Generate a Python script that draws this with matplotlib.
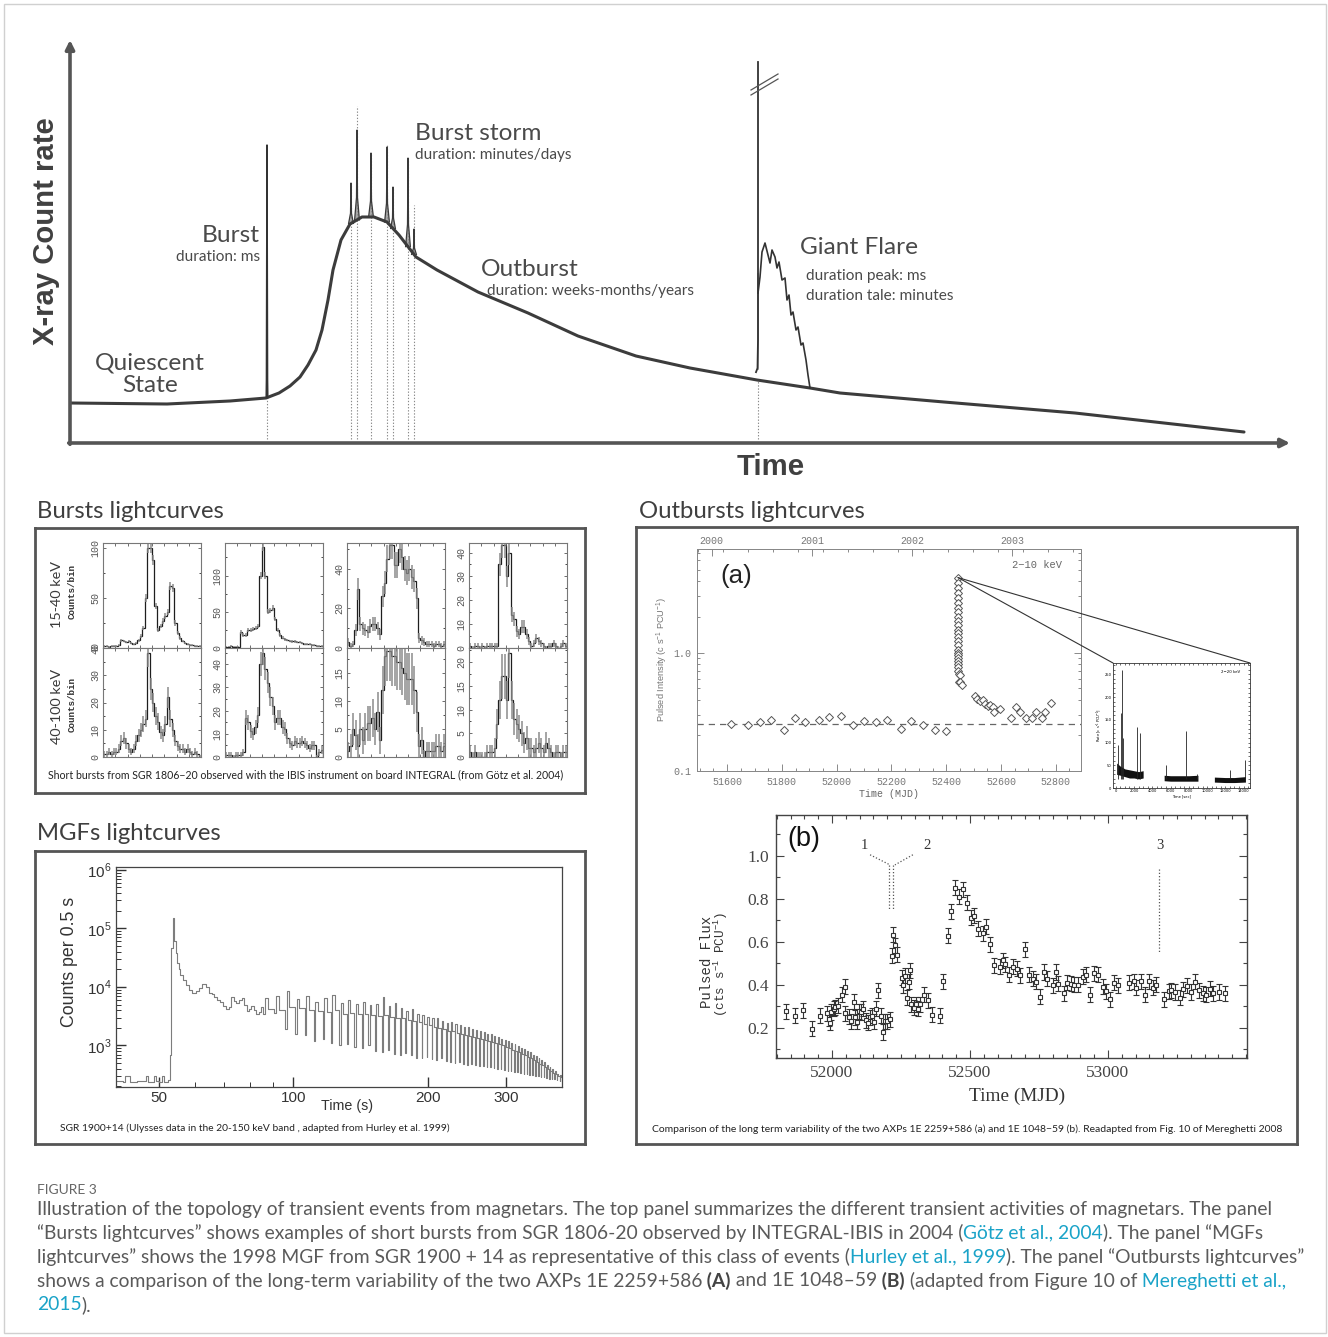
import numpy as np
import matplotlib
matplotlib.use('Agg')
import matplotlib.pyplot as plt
from matplotlib.patches import Rectangle, ConnectionPatch
from matplotlib.ticker import MultipleLocator, NullFormatter, LogLocator

W, H = 1328, 1337
GILL = 'Lato'
HELV = 'Liberation Sans'
SERIF = 'Liberation Serif'
MONO = 'Liberation Mono'
TXT = '#4a4a4a'
AXC = '#555555'
plt.rcParams['mathtext.fontset'] = 'custom'
plt.rcParams['mathtext.rm'] = 'Liberation Sans'

# ---------------- data ----------------
# schematic light curve (arbitrary time / count-rate units)
sk_t = [0, 97, 160, 196, 209, 220, 230, 238, 246, 252, 258, 263, 271, 280, 292, 304, 317,
        329, 346, 367, 408, 458, 508, 566, 620, 687, 740, 770, 874, 1005, 1174]
sk_r = [40, 39, 42, 45, 50, 57, 66, 78, 93, 113, 143, 173, 203, 219, 226, 226, 221,
        208, 186, 173, 151, 130, 107, 87, 75, 63, 55, 50, 41, 30, 11]
burst_t, burst_top = 197, 298
storm_t = [281, 287, 301, 317, 323, 338, 344]
storm_top = [260, 313, 290, 296, 256, 285, 214]
storm_guide = [260, 337, 290, 298, 256, 285, 238]
gf_t, gf_top = 688, 381
gf_tail_t = [688, 690, 692, 695, 698, 700, 702, 705, 707, 709, 712, 715, 717, 719, 721,
             723, 726, 728, 731, 733, 736, 738, 740]
gf_tail_r = [150, 166, 191, 200, 188, 180, 193, 186, 175, 181, 163, 165, 143, 148, 128,
             131, 113, 116, 98, 100, 83, 68, 55]

# INTEGRAL/IBIS short bursts, counts per bin
soft_1 = [2, 2, 1, 2, 2, 2, 3, 8, 7, 6, 7, 5, 4, 5, 8, 12, 20, 50, 100, 100,
          88, 42, 18, 22, 27, 32, 36, 62, 60, 25, 15, 10, 7, 5, 4, 3, 3, 2, 2, 2]
soft_2 = [2, 2, 3, 2, 2, 2, 22, 18, 18, 25, 25, 26, 28, 30, 100, 140, 100, 50, 52, 55,
          40, 25, 18, 14, 12, 11, 10, 9, 9, 8, 8, 7, 6, 6, 5, 4, 4, 3, 3, 3]
soft_3 = [3, 1, 2, 9, 30, 12, 10, 9, 8, 11, 12, 12, 10, 7, 26, 33, 45, 52, 52, 42,
          42, 50, 46, 40, 38, 40, 36, 34, 25, 5, 4, 3, 2, 2, 2, 1, 2, 2, 1, 2]
soft_4 = [1, 0, 1, 1, 0, 1, 0, 1, 1, 1, 1, 1, 35, 43, 43, 30, 40, 14, 12, 7,
          6, 9, 9, 6, 3, 1, 2, 4, 3, 2, 1, 0, 1, 1, 2, 1, 0, 1, 2, 1]
hard_1 = [1, 1, 2, 1, 2, 2, 3, 6, 7, 5, 3, 2, 3, 6, 8, 10, 12, 14, 38, 25,
          20, 15, 13, 9, 8, 12, 22, 14, 10, 6, 4, 3, 3, 2, 3, 2, 1, 2, 1, 0]
hard_2 = [1, 1, 1, 0, 1, 1, 1, 2, 17, 15, 11, 10, 13, 18, 40, 45, 38, 32, 26, 22,
          15, 17, 17, 13, 12, 8, 6, 5, 7, 6, 6, 7, 6, 5, 4, 5, 5, 0, 2, 3]
hard_3 = [1, 2, 5, 4, 2, 5, 3, 5, 6, 6, 7, 5, 8, 3, 12, 18, 19, 19, 18, 18,
          17, 17, 16, 15, 14, 14, 14, 12, 8, 2, 3, 0, 1, 1, 1, 1, 2, 2, 1, 2]
hard_4 = [1, 0, 1, 0, 0, 0, 0, 1, 1, 1, 2, 7, 12, 17, 17, 12, 22, 12, 8, 7,
          6, 5, 3, 4, 2, 2, 1, 2, 3, 2, 1, 3, 2, 1, 0, 1, 1, 0, 1, 1]
soft_ylim = [105, 145, 53, 44]
hard_ylim = [40, 47, 19.5, 23]
soft_ticks = [[0, 50, 100], [0, 50, 100], [0, 20, 40], [0, 10, 20, 30, 40]]
hard_ticks = [[0, 10, 20, 30, 40], [0, 10, 20, 30, 40], [0, 5, 10, 15], [0, 5, 10, 15, 20]]

# SGR 1900+14 giant flare (Ulysses), counts per 0.5 s
mgf_t0 = [40, 41.5, 42, 43, 43.5, 44.5, 46, 46.6, 47.2, 48, 48.6, 49.2, 50, 50.6, 51.2,
          52.2, 52.8, 53.2, 53.6, 54.0, 54.4, 54.8, 55.3, 55.8, 56.5, 57.3, 58.2, 59.2,
          60.5, 61.5, 62.5, 63.5, 64.5, 65.5, 66.5, 67.5, 68.5, 69.5, 70.5, 71.5, 72.5,
          73.5, 74.5, 75.5, 76.5, 77.5, 78.5, 79.5, 80.5, 81.5, 82.5, 83.5, 84.5]
mgf_c0 = [250, 240, 300, 240, 235, 250, 245, 300, 240, 240, 300, 245, 240, 300, 240,
          260, 700, 4.6e4, 1.5e5, 6.0e4, 3.8e4, 2.6e4, 2.0e4, 1.6e4, 1.3e4, 1.1e4, 9.0e3,
          8.0e3, 8.6e3, 9.5e3, 1.13e4, 1.0e4, 8.0e3, 7.6e3, 6.8e3, 6.0e3, 5.6e3, 4.8e3,
          4.2e3, 4.6e3, 6.7e3, 5.8e3, 5.4e3, 6.0e3, 6.5e3, 5.0e3, 3.9e3, 4.2e3, 4.8e3,
          4.0e3, 3.45e3, 3.8e3, 4.5e3]
pulse_t = [85.4, 90.6, 95.7, 100.9, 106.0, 111.2, 116.4, 121.5, 126.7, 131.8, 137.0,
           142.2, 147.3, 152.5, 157.6, 162.8, 168.0, 173.1, 178.3, 183.4, 188.6, 193.8,
           198.9, 204.1, 209.2, 214.4, 219.6, 224.7, 229.9, 235.0, 240.2, 245.4, 250.5,
           255.7, 260.8, 266.0, 271.2, 276.3, 281.5, 286.6, 291.8, 297.0, 302.1, 307.3,
           312.4, 317.6, 322.8, 327.9, 333.1, 338.2, 343.4, 348.6, 353.7, 358.9, 364.0,
           369.2, 374.4, 379.5, 384.7, 389.8, 395.0]
pulse_hi = [6500, 7000, 8400, 6200, 7000, 5600, 6400, 7400, 5400, 6000, 5200, 5600, 4900,
            5100, 6600, 4700, 5300, 4300, 3900, 4200, 3500, 3300, 3100, 2900, 3000, 2600,
            2450, 2500, 2300, 2200, 2100, 2050, 1900, 1850, 1750, 1700, 1600, 1550, 1450,
            1400, 1300, 1250, 1200, 1100, 1050, 980, 920, 880, 800, 760, 700, 660, 600,
            560, 520, 470, 430, 390, 360, 330, 310]
pulse_mid = [4200, 4000, 4600, 4300, 4000, 3900, 3700, 4100, 3500, 3600, 3400, 3500, 3300,
             3200, 3300, 3100, 3000, 2900, 2700, 2650, 2500, 2350, 2200, 2050, 1950, 1900,
             1800, 1750, 1650, 1600, 1500, 1450, 1400, 1350, 1300, 1250, 1200, 1150, 1100,
             1050, 1000, 950, 900, 850, 800, 760, 720, 680, 640, 600, 560, 530, 490, 460,
             430, 400, 370, 340, 320, 300, 285]
pulse_lo = [3500, 3600, 1900, 1600, 1500, 1200, 1300, 1100, 1000, 1050, 950, 900, 1000,
            800, 760, 820, 720, 700, 740, 680, 620, 600, 640, 580, 560, 600, 540, 520, 500,
            520, 480, 470, 490, 460, 450, 440, 430, 420, 410, 400, 395, 380, 370, 365, 350,
            345, 340, 330, 325, 315, 310, 300, 295, 290, 285, 280, 270, 265, 262, 258, 250]

# 1E 2259+586 pulsed intensity (RXTE, 2-10 keV)
a_quiescent = 0.25
a_mjd_q = [51615, 51677, 51720, 51762, 51807, 51846, 51886, 51934, 51973, 52016,
           52061, 52101, 52143, 52184, 52234, 52273, 52315, 52359, 52398]
a_val_q = [0.249, 0.244, 0.257, 0.270, 0.221, 0.278, 0.260, 0.270, 0.287, 0.292,
           0.244, 0.264, 0.257, 0.270, 0.228, 0.264, 0.244, 0.221, 0.218]
a_onset = 52443
a_val_o = [4.3, 3.9, 3.5, 3.2, 2.9, 2.6, 2.4, 2.2, 2.0, 1.85, 1.7, 1.55, 1.45, 1.35,
           1.25, 1.15, 1.05, 1.0, 0.95, 0.9, 0.85, 0.8, 0.75, 0.7]
a_mjd_d = [52446, 52450, 52447, 52452, 52458, 52504, 52514, 52523, 52534, 52542, 52551,
           52560, 52570, 52575, 52596, 52638, 52655, 52671, 52690, 52713, 52729, 52749,
           52762, 52781]
a_val_d = [0.66, 0.65, 0.57, 0.56, 0.53, 0.432, 0.405, 0.387, 0.40, 0.367, 0.355, 0.36,
           0.344, 0.312, 0.333, 0.283, 0.344, 0.316, 0.28, 0.283, 0.312, 0.278, 0.312, 0.375]
year_mjd = [51544, 51910, 52275, 52640]
year_lbl = ['2000', '2001', '2002', '2003']

# zoom on the outburst onset (count rate vs seconds)
seg_t = [[100, 500, 1000, 1500, 2000, 2500, 3000],
         [5300, 6000, 7000, 8000, 9000],
         [10800, 12000, 13000, 14200]]
seg_lo = [[30, 28, 25, 22, 22, 20, 22], [16, 15, 15, 15, 15], [13, 12, 12, 13]]
seg_hi = [[55, 48, 42, 40, 38, 36, 38], [28, 27, 27, 27, 28], [24, 23, 23, 25]]
spike_t = [300, 550, 650, 800, 2350, 2650, 5500, 7700, 8900, 12500, 14100]
spike_h = [95, 165, 260, 110, 135, 120, 50, 125, 30, 40, 62]

# 1E 1048-59 pulsed flux
b_mjd = [51832, 51866, 51894, 51926, 51956, 51982, 51988, 51992, 51998, 52006, 52012,
         52022, 52036, 52046, 52048, 52062, 52070, 52078, 52084, 52090, 52098, 52106,
         52114, 52122, 52129, 52138, 52144, 52151, 52158, 52168, 52177, 52183, 52192,
         52201, 52210,
         52216, 52222, 52230, 52236, 52252, 52258, 52264, 52272, 52279, 52282, 52288,
         52296, 52304, 52312, 52318, 52333, 52348, 52363, 52391,
         52404, 52420, 52433, 52447, 52462, 52476, 52488, 52504, 52513, 52528, 52548,
         52559, 52572, 52588, 52608, 52620, 52627, 52643, 52656, 52669, 52681, 52699,
         52715, 52729, 52739, 52753, 52767, 52779, 52800, 52812, 52818, 52839, 52851,
         52867, 52878, 52890, 52909, 52921, 52935, 52950, 52965, 52981, 52992, 53007,
         53022, 53035,
         53076, 53094, 53103, 53119, 53133, 53149, 53163, 53175, 53203, 53220, 53227,
         53243, 53261, 53271, 53285, 53301, 53317, 53331, 53343, 53355, 53369, 53379,
         53403, 53423]
b_flux = [0.278, 0.256, 0.282, 0.197, 0.256, 0.267, 0.243, 0.224, 0.274, 0.289, 0.297,
          0.304, 0.355, 0.391, 0.267, 0.251, 0.231, 0.321, 0.250, 0.228, 0.277, 0.274,
          0.290, 0.236, 0.224, 0.250, 0.257, 0.228, 0.290, 0.375, 0.257, 0.181, 0.231,
          0.231, 0.240,
          0.535, 0.634, 0.585, 0.541, 0.433, 0.398, 0.442, 0.340, 0.414, 0.468, 0.309,
          0.293, 0.309, 0.290, 0.309, 0.355, 0.329, 0.262, 0.256,
          0.417, 0.628, 0.743, 0.851, 0.809, 0.845, 0.783, 0.712, 0.721, 0.662, 0.639,
          0.670, 0.588, 0.491, 0.484, 0.515, 0.495, 0.448, 0.484, 0.476, 0.445, 0.566,
          0.448, 0.429, 0.414, 0.344, 0.460, 0.429, 0.398, 0.460, 0.406, 0.360, 0.411,
          0.406, 0.401, 0.401, 0.437, 0.448, 0.355, 0.453, 0.448, 0.391, 0.371, 0.333,
          0.411, 0.398,
          0.411, 0.417, 0.386, 0.417, 0.355, 0.417, 0.386, 0.401, 0.333, 0.371, 0.375,
          0.367, 0.340, 0.380, 0.395, 0.367, 0.414, 0.375, 0.360, 0.355, 0.383, 0.360,
          0.367, 0.360]
b_err = 0.035
glitch_mjd = [52207, 52221]
event3_mjd = 53185

# ---------------- helpers ----------------
fig = plt.figure(figsize=(W / 100, H / 100), dpi=100)
fig.patch.set_facecolor('white')
R = fig.canvas.get_renderer()


def rect(x0, y0, x1, y1):
    return [x0 / W, 1 - y1 / H, (x1 - x0) / W, (y1 - y0) / H]


def px(x, y):
    return x / W, 1 - y / H


def fit(s, width, **kw):
    t = fig.text(0, 0, s, fontsize=10, **kw)
    w = t.get_window_extent(R).width
    t.remove()
    return 10.0 * width / w


def frame(x0, y0, x1, y1, lw=2.0):
    a = fig.add_axes(rect(x0, y0, x1, y1))
    a.set_xticks([]); a.set_yticks([])
    a.set_facecolor('none')
    for s in a.spines.values():
        s.set_color(AXC); s.set_linewidth(lw)
    return a


fig.add_artist(Rectangle((4 / W, 1 - 1333 / H), 1322 / W, 1329 / H,
                         transform=fig.transFigure, fill=False, ec='#d0d0d0', lw=1))

# ---------------- top schematic ----------------
ax = fig.add_axes(rect(70, 40, 1290, 443))
ax.set_xlim(0, 1220); ax.set_ylim(0, 403); ax.axis('off')
arr = dict(arrowstyle='-|>', color=AXC, lw=2.6, mutation_scale=13, shrinkA=0, shrinkB=0)
ax.annotate('', xy=(1220, 0), xytext=(-1.3, 0), arrowprops=arr, annotation_clip=False)
ax.annotate('', xy=(0, 403), xytext=(0, -1.3), arrowprops=arr, annotation_clip=False)

dots = dict(colors='#8a8a8a', linestyles=(0, (1.2, 1.6)), lw=0.8)
ax.vlines([burst_t, gf_t], 4, [np.interp(burst_t, sk_t, sk_r), np.interp(gf_t, sk_t, sk_r)], **dots)
ax.vlines(storm_t, 4, storm_guide, **dots)
ax.plot(sk_t, sk_r, color='#3c3c3c', lw=2.2, solid_capstyle='round')

b0 = np.interp(burst_t, sk_t, sk_r)
ax.fill([burst_t - 1.8, burst_t, burst_t + 1.8], [b0, b0 + 40, b0], color='#b0b0b0', lw=0)
ax.plot([burst_t - 0.6, burst_t, burst_t + 0.6], [b0, burst_top, b0], color='#333', lw=1.1)
for t, top in zip(storm_t, storm_top):
    base = np.interp(t, sk_t, sk_r)
    ax.fill([t - 2.4, t - 0.5, t, t + 0.5, t + 2.4],
            [base, base + 0.25 * (top - base), top, base + 0.25 * (top - base), base],
            color='#a8a8a8', lw=0)
    ax.plot([t - 2.4, t - 0.5, t, t + 0.5, t + 2.4],
            [base, base + 0.25 * (top - base), top, base + 0.25 * (top - base), base],
            color='#3a3a3a', lw=0.9)

g0 = np.interp(gf_t, sk_t, sk_r)
ax.plot([gf_t - 2, gf_t - 0.5, gf_t, gf_t], [g0 + 8, g0 + 12, g0 + 40, gf_top], color='#333', lw=1.3)
ax.fill_betweenx([g0 + 10, 170], gf_t - 0.8, gf_t + 1.2, color='#b0b0b0', lw=0)
ax.plot(gf_tail_t, gf_tail_r, color='#333', lw=1.2)
ax.plot([gf_t - 7, gf_t + 20], [348, 364], color='#555', lw=0.9)
ax.plot([gf_t - 7, gf_t + 20], [353, 369], color='#555', lw=0.9)

BIG = fit('Burst storm', 126, family=GILL)
SMALL = fit('duration: weeks-months/years', 208, family=GILL)
big = dict(family=GILL, fontsize=BIG, color=TXT, va='center')
small = dict(family=GILL, fontsize=SMALL, color=TXT, va='center')
fig.text(*px(260, 235), 'Burst', ha='right', **big)
fig.text(*px(260, 257), 'duration: ms', ha='right', **small)
fig.text(*px(150, 363), 'Quiescent', ha='center', **big)
fig.text(*px(150, 385), 'State', ha='center', **big)
fig.text(*px(415, 133), 'Burst storm', ha='left', **big)
fig.text(*px(415, 155), 'duration: minutes/days', ha='left', **small)
fig.text(*px(481, 270), 'Outburst', ha='left', **big)
fig.text(*px(487, 291), 'duration: weeks-months/years', ha='left', **small)
fig.text(*px(800, 248), 'Giant Flare', ha='left', **big)
fig.text(*px(806, 276), 'duration peak: ms', ha='left', **small)
fig.text(*px(806, 296), 'duration tale: minutes', ha='left', **small)

fig.text(*px(46, 231), 'X-ray Count rate', rotation=90, ha='center', va='center',
         family=HELV, weight='bold', color='#404040',
         fontsize=fit('X-ray Count rate', 227, family=HELV, weight='bold'))
fig.text(*px(771, 467), 'Time', ha='center', va='center', family=HELV, weight='bold',
         color='#404040', fontsize=fit('Time', 68, family=HELV, weight='bold'))

# ---------------- section titles and boxes ----------------
SEC = fit('Outbursts lightcurves', 226, family=GILL)
sec = dict(family=GILL, fontsize=SEC, color='#3f3f3f', va='center', ha='left')
fig.text(*px(37, 511), 'Bursts lightcurves', **sec)
fig.text(*px(37, 833), 'MGFs lightcurves', **sec)
fig.text(*px(639, 511), 'Outbursts lightcurves', **sec)
frame(35, 528, 585, 793)
frame(35, 851, 585, 1144)
frame(636, 527, 1297, 1144)

# ---------------- bursts panel ----------------
cols_x = [(103, 201), (225, 323), (347, 445), (469, 567)]
rows_y = [(543, 648), (648, 757)]
rows = [([soft_1, soft_2, soft_3, soft_4], soft_ylim, soft_ticks, [0.5, 0.5, 1.0, 0.8]),
        ([hard_1, hard_2, hard_3, hard_4], hard_ylim, hard_ticks, [0.8, 0.8, 1.2, 1.1])]
edges = np.arange(41)
centers = edges[:-1] + 0.5
for (y0, y1), (series, ylims, ticks, k) in zip(rows_y, rows):
    for (x0, x1), vals, ylim, tk, kk in zip(cols_x, series, ylims, ticks, k):
        a = fig.add_axes(rect(x0, y0, x1, y1))
        v = np.array(vals, float)
        a.errorbar(centers, v, yerr=kk * np.sqrt(v + 1), fmt='none', ecolor='#8c8c8c', elinewidth=1.1)
        a.stairs(v, edges, color='#1e1e1e', lw=0.9)
        a.set_xlim(0, 40); a.set_ylim(0, ylim)
        a.set_yticks(tk, [str(t) for t in tk], rotation=90, va='center',
                     family=MONO, fontsize=7.2, color='#333')
        a.xaxis.set_major_locator(MultipleLocator(5))
        a.yaxis.set_minor_locator(MultipleLocator(tk[1] / 2))
        a.tick_params(direction='in', top=True, right=True, labelbottom=False,
                      length=2.5, width=0.6, pad=2, colors='#555')
        a.tick_params(which='minor', direction='in', right=True, left=True, length=1.5, width=0.5)
        for s in a.spines.values():
            s.set_color('#777'); s.set_linewidth(0.8)

kev = fit('15-40 keV', 67, family=GILL)
cb = fit('Counts/bin', 56, family=MONO, weight='bold')
for yc, lab in [(594, '15-40 keV'), (706, '40-100 keV')]:
    fig.text(*px(57, yc), lab, rotation=90, ha='center', va='center', family=GILL,
             fontsize=kev, color='#3a3a3a')
    fig.text(*px(72.5, yc - 2), 'Counts/bin', rotation=90, ha='center', va='center',
             family=MONO, weight='bold', fontsize=cb, color='#333')

cap1 = 'Short bursts from SGR 1806\u221220 observed with the IBIS instrument on board INTEGRAL (from G\u00f6tz et al. 2004)'
fig.text(*px(48, 775), cap1, ha='left', va='center', family=GILL, color='#222',
         fontsize=fit(cap1, 514, family=GILL))

# ---------------- MGF panel ----------------
mgf_t = list(mgf_t0)
mgf_c = list(mgf_c0)
for t, lo, hi, mid in zip(pulse_t, pulse_lo, pulse_hi, pulse_mid):
    mgf_t += [t, t + 0.8, t + 2.2]
    mgf_c += [lo, hi, mid]
mgf_t.append(400); mgf_c.append(245)

am = fig.add_axes(rect(116, 867, 562, 1087))
am.set_xscale('log'); am.set_yscale('log')
am.plot(mgf_t, mgf_c, drawstyle='steps-post', color='#7d7d7d', lw=0.8)
am.set_xlim(40, 400); am.set_ylim(195, 1.12e6)
am.set_xticks([50, 100, 200, 300], ['50', '100', '200', '300'], family=HELV, fontsize=11)
am.set_xticks([60, 70, 80, 90], minor=True)
am.xaxis.set_minor_formatter(NullFormatter())
am.set_yticks([1e3, 1e4, 1e5, 1e6], [r'$10^3$', r'$10^4$', r'$10^5$', r'$10^6$'], fontsize=11)
am.yaxis.set_minor_locator(LogLocator(subs=np.arange(2, 10)))
am.yaxis.set_minor_formatter(NullFormatter())
am.tick_params(which='major', direction='in', length=7, width=1.0, colors='#333', pad=3)
am.tick_params(which='minor', direction='in', length=3.5, width=0.7, colors='#333')
for s in am.spines.values():
    s.set_color('#444'); s.set_linewidth(0.9)
fig.text(*px(69, 962), 'Counts per 0.5 s', rotation=90, ha='center', va='center', family=HELV,
         color='#333', fontsize=fit('Counts per 0.5 s', 130, family=HELV))
fig.text(*px(347, 1106), 'Time (s)', ha='center', va='center', family=HELV, color='#333',
         fontsize=fit('Time (s)', 52, family=HELV))
cap2 = 'SGR 1900+14 (Ulysses data in the 20-150 keV band , adapted from Hurley et al. 1999)'
fig.text(*px(60, 1128), cap2, ha='left', va='center', family=GILL, color='#222',
         fontsize=fit(cap2, 390, family=GILL))

# ---------------- outburst (a) ----------------
aa = fig.add_axes(rect(697, 549, 1081, 771))
aa.set_yscale('log')
aa.set_xlim(51490, 52892); aa.set_ylim(0.1, 7.5)
aa.axhline(a_quiescent, color='#666', lw=0.9, ls=(0, (5, 4)))
ek = dict(fmt='D', ms=3.6, mfc='white', mec='#555', ecolor='#555', elinewidth=0.7, mew=0.7)
aa.errorbar(a_mjd_q, a_val_q, xerr=7, yerr=0.07 * np.array(a_val_q), **ek)
aa.plot([a_onset] * len(a_val_o), a_val_o, color='#333', lw=0.8)
aa.errorbar([a_onset] * len(a_val_o), a_val_o, yerr=0.03 * np.array(a_val_o), **ek)
aa.errorbar(a_mjd_d, a_val_d, xerr=7, yerr=0.07 * np.array(a_val_d), **ek)
aa.set_xticks(np.arange(51600, 52801, 200), [str(v) for v in range(51600, 52801, 200)],
              family=MONO, fontsize=7.2, color='#666')
aa.xaxis.set_minor_locator(MultipleLocator(50))
aa.set_yticks([0.1, 1.0], ['0.1', '1.0'], family=MONO, fontsize=7.2, color='#666')
aa.yaxis.set_minor_formatter(NullFormatter())
aa.tick_params(which='both', direction='in', right=True, colors='#777', width=0.6)
aa.tick_params(which='major', length=5, pad=4)
aa.tick_params(which='minor', length=2.5)
top = aa.twiny()
top.set_xlim(aa.get_xlim())
top.set_xticks(year_mjd, year_lbl, family=MONO, fontsize=7.2, color='#666')
top.xaxis.set_minor_locator(MultipleLocator(91.3))
top.tick_params(which='both', direction='in', colors='#777', width=0.6, pad=2)
top.tick_params(which='major', length=5); top.tick_params(which='minor', length=2.5)
for a in (aa, top):
    for s in a.spines.values():
        s.set_color('#888'); s.set_linewidth(0.7)
aa.text(0.06, 0.88, '(a)', transform=aa.transAxes, ha='left', va='center', family=HELV,
        fontsize=fit('(a)', 32, family=HELV), color='#222')
aa.text(0.95, 0.93, '2\u221210 keV', transform=aa.transAxes, ha='right', va='center',
        family=MONO, fontsize=7.5, color='#666')
fig.text(*px(889, 794), 'Time (MJD)', ha='center', va='center', family=MONO, fontsize=7.2, color='#666')
ylab_a = r'Pulsed Intensity (c s$^{-1}$ PCU$^{-1}$)'
fig.text(*px(662, 660), ylab_a, rotation=90, ha='center', va='center', family=HELV,
         fontsize=fit(ylab_a, 125, family=HELV), color='#777')

ai = fig.add_axes(rect(1113, 663, 1250, 788))
for ts, lo, hi in zip(seg_t, seg_lo, seg_hi):
    ai.fill_between(ts, lo, hi, color='#111', lw=0)
ai.vlines(spike_t, 20, spike_h, color='#222', lw=0.6)
ai.set_xlim(-300, 14700); ai.set_ylim(0, 275)
ai.set_xticks(np.arange(0, 14001, 2000), [str(v) for v in range(0, 14001, 2000)], fontsize=2.6)
ai.set_yticks(np.arange(0, 251, 50), [str(v) for v in range(0, 251, 50)], fontsize=2.6)
ai.xaxis.set_minor_locator(MultipleLocator(500))
ai.yaxis.set_minor_locator(MultipleLocator(10))
ai.tick_params(which='both', direction='in', top=True, right=True, length=1.5, width=0.4, pad=1)
ai.set_xlabel('Time [sec]', fontsize=2.6, labelpad=0.5)
ai.set_ylabel(r'Rate [c s$^{-1}$ PCU$^{-1}$]', fontsize=2.6, labelpad=0.5)
ai.text(0.93, 0.92, '2\u221220 keV', transform=ai.transAxes, ha='right', fontsize=2.8)
for s in ai.spines.values():
    s.set_linewidth(0.6); s.set_color('#333')
for corner in [(0, 1), (1, 1)]:
    fig.add_artist(ConnectionPatch(xyA=(a_onset, a_val_o[0]), coordsA=aa.transData,
                                   xyB=corner, coordsB=ai.transAxes, color='#333', lw=0.8))

# ---------------- outburst (b) ----------------
ab = fig.add_axes(rect(776, 815, 1247, 1058))
ab.errorbar(b_mjd, b_flux, yerr=b_err, fmt='s', ms=3.2, mfc='white', mec='#333',
            ecolor='#333', elinewidth=0.8, capsize=2, capthick=0.8, mew=0.8)
ab.set_xlim(51797, 53504); ab.set_ylim(0.06, 1.19)
ab.set_xticks([52000, 52500, 53000], ['52000', '52500', '53000'], family=SERIF, fontsize=12.5)
ab.xaxis.set_minor_locator(MultipleLocator(50))
ab.set_yticks([0.2, 0.4, 0.6, 0.8, 1.0], ['0.2', '0.4', '0.6', '0.8', '1.0'], family=SERIF, fontsize=12.5)
ab.yaxis.set_minor_locator(MultipleLocator(0.1))
ab.tick_params(which='both', direction='in', top=True, right=True, colors='#444', width=0.8)
ab.tick_params(which='major', length=6, pad=5); ab.tick_params(which='minor', length=3)
for s in ab.spines.values():
    s.set_color('#444'); s.set_linewidth(1.0)
dk = dict(color='#555', lw=0.9, ls=(0, (1, 1.6)))
ab.plot([52138, 52210], [1.005, 0.958], **dk)
ab.plot([52293, 52228], [1.005, 0.958], **dk)
for m in glitch_mjd:
    ab.plot([m, m], [0.958, 0.749], **dk)
ab.plot([event3_mjd, event3_mjd], [0.94, 0.553], **dk)
for m, s in [(52116, '1'), (52344, '2'), (53188, '3')]:
    ab.text(m, 1.05, s, ha='center', va='center', family=SERIF, fontsize=10.5, color='#333')
ab.text(0.025, 0.9, '(b)', transform=ab.transAxes, ha='left', va='center', family=HELV,
        fontsize=fit('(b)', 33, family=HELV), color='#111')
fig.text(*px(1017, 1096), 'Time (MJD)', ha='center', va='center', family=SERIF, color='#333',
         fontsize=fit('Time (MJD)', 96, family=SERIF))
fig.text(*px(707, 962), 'Pulsed Flux', rotation=90, ha='center', va='center', family=MONO,
         color='#333', fontsize=fit('Pulsed Flux', 93, family=MONO))
fig.text(*px(721, 964), r'(cts s$^{-1}$ PCU$^{-1}$)', rotation=90, ha='center', va='center',
         family=MONO, color='#333', fontsize=fit(r'(cts s$^{-1}$ PCU$^{-1}$)', 105, family=MONO))
cap3 = ('Comparison of the long term variability of the two AXPs 1E 2259+586 (a) and '
        '1E 1048\u221259 (b). Readapted from Fig. 10 of Mereghetti 2008')
fig.text(*px(652, 1129), cap3, ha='left', va='center', family=GILL, color='#222',
         fontsize=fit(cap3, 629, family=GILL))

# ---------------- figure caption ----------------
CAP = 'Lato'
GREY = '#5a5a5a'
LINK = '#1aa3c8'
L1 = ('Illustration of the topology of transient events from magnetars. The top panel summarizes '
      'the different transient activities of magnetars. The panel')
CS = fit(L1, 1240, family=CAP)
fig.text(*px(37, 1190), 'FIGURE 3', ha='left', va='center', family=CAP, fontsize=CS * 0.72,
         color='#666')


def rich(x, y, parts):
    for s, color, weight in parts:
        t = fig.text(*px(x, y), s, ha='left', va='center', family=CAP, fontsize=CS,
                     color=color, weight=weight)
        x += t.get_window_extent(R).width


lines = [
    [(L1, GREY, 'normal')],
    [('\u201cBursts lightcurves\u201d shows examples of short bursts from SGR 1806-20 observed by '
      'INTEGRAL-IBIS in 2004 (', GREY, 'normal'), ('G\u00f6tz et al., 2004', LINK, 'normal'),
     ('). The panel \u201cMGFs', GREY, 'normal')],
    [('lightcurves\u201d shows the 1998 MGF from SGR 1900 + 14 as representative of this class of '
      'events (', GREY, 'normal'), ('Hurley et al., 1999', LINK, 'normal'),
     ('). The panel \u201cOutbursts lightcurves\u201d', GREY, 'normal')],
    [('shows a comparison of the long-term variability of the two AXPs 1E 2259+586', GREY, 'normal'),
     (' (A)', '#444', 'bold'), (' and 1E 1048\u201359', GREY, 'normal'), (' (B)', '#444', 'bold'),
     (' (adapted from Figure 10 of', GREY, 'normal'), (' Mereghetti et al.,', LINK, 'normal')],
    [('2015', LINK, 'normal'), (').', GREY, 'normal')],
]
for i, parts in enumerate(lines):
    rich(37, 1209 + 24 * i, parts)

fig.savefig('out.png', dpi=100, facecolor='white')
